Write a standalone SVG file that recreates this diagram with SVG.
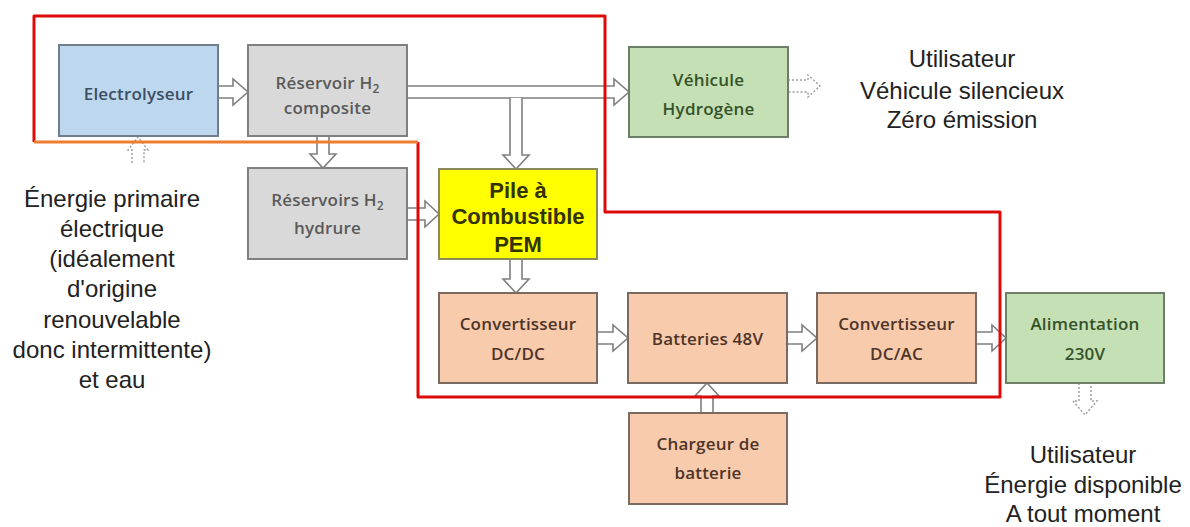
<svg xmlns="http://www.w3.org/2000/svg" width="1190" height="527" viewBox="0 0 1190 527">
<style>
.box{stroke-width:2}
.blue{fill:#bdd7ee;stroke:#6f7d8c}
.gray{fill:#d9d9d9;stroke:#808080}
.green{fill:#c5e0b4;stroke:#6e7f68}
.yellow{fill:#ffff00;stroke:#8a8a5a}
.orange{fill:#f8cbad;stroke:#7a6a62}
.lbl{font-family:"Open Sans",sans-serif;font-size:17px;font-weight:600;letter-spacing:0.2px;text-anchor:middle}
.tb{fill:#3b4e64}
.tg{fill:#5a5a5a}
.tgr{fill:#35522a}
.to{fill:#4e3428}
.pem{font-family:"Liberation Sans",Arial,sans-serif;font-size:22px;font-weight:bold;fill:#333300;text-anchor:middle}
.big{font-family:"Liberation Sans",Arial,sans-serif;font-size:24px;fill:#222;text-anchor:middle}
.arr{fill:#fff;stroke:#7f7f7f;stroke-width:1.6;stroke-linejoin:miter}
.dash{fill:#fff;stroke:#9a9a9a;stroke-width:1.4;stroke-dasharray:2 2}
.sub{font-size:12px}
</style>
<g id="connectors">
  <path class="arr" d="M218 86 L233 86 L233 79 L248 92 L233 105 L233 98 L218 98"/>
  <path class="arr" d="M407 86 L614 86 L614 79 L629 92 L614 105 L614 98 L407 98"/>
  <path class="arr" d="M510 98 L510 155 L503 155 L516 169 L529 155 L522 155 L522 98"/>
  <path class="arr" d="M317 136 L317 154 L310 154 L323 168 L336 154 L329 154 L329 136"/>
  <path class="arr" d="M407 208 L425 208 L425 201 L439 214 L425 227 L425 220 L407 220"/>
  <path class="arr" d="M510 259 L510 279 L503 279 L516 293 L529 279 L522 279 L522 259"/>
  <path class="arr" d="M597 332 L613 332 L613 325 L628 338 L613 351 L613 344 L597 344"/>
  <path class="arr" d="M787 332 L802 332 L802 325 L817 338 L802 351 L802 344 L787 344"/>
  <path class="arr" d="M976 332 L992 332 L992 325 L1006 338 L992 351 L992 344 L976 344"/>
  <path class="arr" d="M701 413 L701 396 L695 396 L707 383 L719 396 L713 396 L713 413"/>
  <path class="dash" d="M132 163 L132 150 L128 150 L138 137 L148 150 L144 150 L144 163"/>
  <path class="dash" d="M788 80 L808 80 L808 75 L820 86 L808 97 L808 92 L788 92"/>
  <path class="dash" d="M1079 383 L1079 401 L1073 401 L1085 415 L1097 401 L1091 401 L1091 383"/>
</g>
<g id="electrolyseur">
  <rect class="box blue" x="59" y="45" width="159" height="91"/>
  <text class="lbl tb" x="138.5" y="100">Electrolyseur</text>
</g>
<g id="reservoir-composite">
  <rect class="box gray" x="248" y="45" width="159" height="91"/>
  <text class="lbl tg" x="327.5" y="89">Réservoir H<tspan class="sub" dy="4">2</tspan></text>
  <text class="lbl tg" x="327.5" y="114">composite</text>
</g>
<g id="vehicule">
  <rect class="box green" x="629" y="47" width="159" height="90"/>
  <text class="lbl tgr" x="708.5" y="86">Véhicule</text>
  <text class="lbl tgr" x="708.5" y="115">Hydrogène</text>
</g>
<g id="reservoir-hydrure">
  <rect class="box gray" x="248" y="168" width="159" height="91"/>
  <text class="lbl tg" x="327.5" y="206">Réservoirs H<tspan class="sub" dy="4">2</tspan></text>
  <text class="lbl tg" x="327.5" y="234">hydrure</text>
</g>
<g id="pile">
  <rect class="box yellow" x="439" y="169" width="158" height="90"/>
  <text class="pem" x="518" y="198">Pile à</text>
  <text class="pem" x="518" y="224">Combustible</text>
  <text class="pem" x="518" y="252">PEM</text>
</g>
<g id="dcdc">
  <rect class="box orange" x="439" y="293" width="158" height="90"/>
  <text class="lbl to" x="518" y="330">Convertisseur</text>
  <text class="lbl to" x="518" y="360">DC/DC</text>
</g>
<g id="batteries">
  <rect class="box orange" x="628" y="293" width="159" height="90"/>
  <text class="lbl to" x="707.5" y="345">Batteries 48V</text>
</g>
<g id="dcac">
  <rect class="box orange" x="817" y="293" width="159" height="90"/>
  <text class="lbl to" x="896.5" y="330">Convertisseur</text>
  <text class="lbl to" x="896.5" y="360">DC/AC</text>
</g>
<g id="alimentation">
  <rect class="box green" x="1006" y="293" width="158" height="90"/>
  <text class="lbl tgr" x="1085" y="330">Alimentation</text>
  <text class="lbl tgr" x="1085" y="360">230V</text>
</g>
<g id="chargeur">
  <rect class="box orange" x="629" y="413" width="158" height="91"/>
  <text class="lbl to" x="708" y="450">Chargeur de</text>
  <text class="lbl to" x="708" y="479">batterie</text>
</g>
<g id="boundary">
  <path d="M418 142 L418 397 L1000 397 L1000 212 L605 212 L605 16 L34 16 L34 142" fill="none" stroke="#dd0a0a" stroke-width="3" stroke-linejoin="round"/>
  <path d="M34 142 L418 142" fill="none" stroke="#ee7d31" stroke-width="3"/>
</g>
<g id="texts">
  <text class="big" x="962" y="67">Utilisateur</text>
  <text class="big" x="962" y="99">Véhicule silencieux</text>
  <text class="big" x="962" y="128">Zéro émission</text>
  <text class="big" x="112" y="207">Énergie primaire</text>
  <text class="big" x="112" y="237">électrique</text>
  <text class="big" x="112" y="267">(idéalement</text>
  <text class="big" x="112" y="297">d'origine</text>
  <text class="big" x="112" y="328">renouvelable</text>
  <text class="big" x="112" y="358">donc intermittente)</text>
  <text class="big" x="112" y="388">et eau</text>
  <text class="big" x="1083" y="463">Utilisateur</text>
  <text class="big" x="1083" y="493">Énergie disponible</text>
  <text class="big" x="1083" y="522">A tout moment</text>
</g>
</svg>
